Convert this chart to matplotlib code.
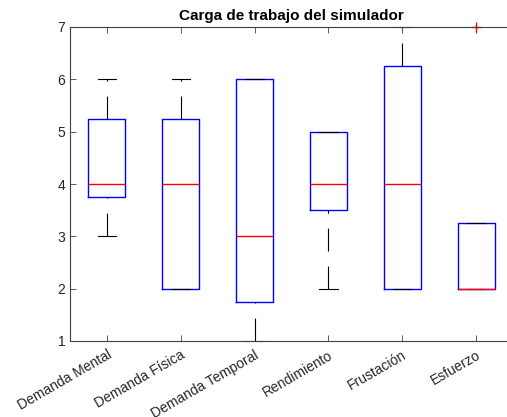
import matplotlib
matplotlib.use("Agg")
import matplotlib.pyplot as plt

plt.rcParams["font.family"] = ["Liberation Sans", "DejaVu Sans"]
plt.rcParams["lines.scale_dashes"] = False

# Resumen de cada dimensión (escala 1-7)
categorias = ["Demanda Mental", "Demanda Física", "Demanda Temporal",
              "Rendimiento", "Frustación", "Esfuerzo"]
medianas = [4, 4, 3, 4, 4, 2]
q1 = [3.75, 2, 1.75, 3.5, 2, 2]
q3 = [5.25, 5.25, 6, 5, 6.25, 3.25]
bigote_inf = [3, 2, 1, 2, 2, 2]
bigote_sup = [6, 6, 6, 5, 7, 3.25]
atipicos = [[], [], [], [], [], [7]]

stats = []
for i, nombre in enumerate(categorias):
    stats.append({
        "label": nombre,
        "med": medianas[i],
        "q1": q1[i],
        "q3": q3[i],
        "whislo": bigote_inf[i],
        "whishi": bigote_sup[i],
        "fliers": atipicos[i],
    })

fig = plt.figure(figsize=(5.07, 4.17), dpi=100)
ax = fig.add_axes([70 / 507, 1 - 341 / 417, 443 / 507, 314 / 417])

eje = "#404040"
res = ax.bxp(
    stats,
    widths=0.5,
    boxprops=dict(color="blue", linewidth=1.0),
    medianprops=dict(color="red", linewidth=1.0),
    whiskerprops=dict(color="black", linewidth=0.8, linestyle=(0, (16.5, 10.8))),
    capprops=dict(color="black", linewidth=0.8),
    flierprops=dict(marker="+", markeredgecolor="red", markersize=7,
                    markeredgewidth=1.0, linestyle="none"),
)

# trazar los bigotes siempre de abajo hacia arriba
for linea in res["whiskers"]:
    y = list(linea.get_ydata())
    if y[0] > y[1]:
        linea.set_ydata(y[::-1])
for art in res["caps"] + res["fliers"] + res["whiskers"] + res["boxes"]:
    art.set_clip_on(False)

ax.set_xlim(0.5, 6.5)
ax.set_ylim(1, 7)
ax.set_yticks(range(1, 8))
ax.set_xticks(range(1, 7))
ax.set_xticklabels(categorias, rotation=30, ha="right", rotation_mode="anchor")
ax.tick_params(direction="in", length=4, width=0.6, colors=eje,
               labelsize=10, labelcolor="#262626", top=True, right=False)
ax.tick_params(axis="x", pad=5)
for s in ax.spines.values():
    s.set_color(eje)
    s.set_linewidth(0.8)

ax.set_title("Carga de trabajo del simulador", fontsize=11, fontweight="bold",
             pad=5)

fig.savefig("out.png", dpi=100)
